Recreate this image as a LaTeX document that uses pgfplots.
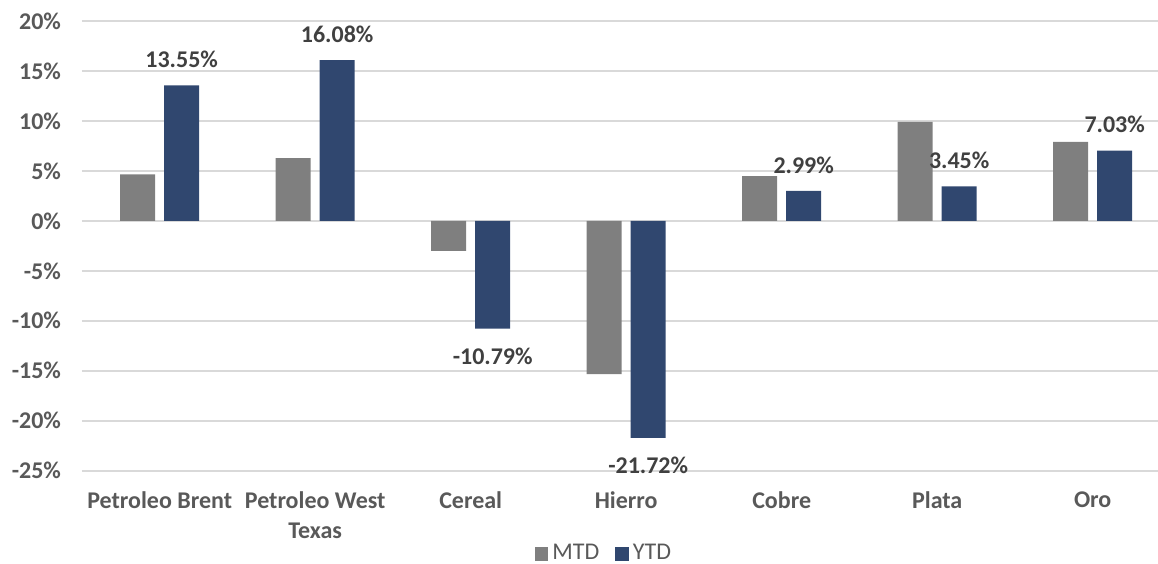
\documentclass[border=0pt]{standalone}
\usepackage{fontspec}
\setmainfont{Carlito}
\usepackage{pgfplots}
\pgfplotsset{compat=1.18}
\usetikzlibrary{calc}

\definecolor{mtdgray}{HTML}{7F7F7F}
\definecolor{ytdblue}{HTML}{30476F}
\definecolor{gridgray}{HTML}{D9D9D9}
\definecolor{labelgray}{HTML}{595959}
\definecolor{valuegray}{HTML}{404040}

\begin{document}
\begin{tikzpicture}
\begin{axis}[
  name=ax,
  x=77.8pt, y=5pt,
  xmin=-0.5, xmax=6.42,
  ymin=-25, ymax=20,
  clip=false,
  axis line style={draw=none},
  tick style={draw=none},
  ymajorgrids,
  grid style={gridgray, line width=1pt},
  ytick={-25,-20,-15,-10,-5,0,5,10,15,20},
  yticklabels={-25\%,-20\%,-15\%,-10\%,-5\%,0\%,5\%,10\%,15\%,20\%},
  xtick={0,1,2,3,4,5,6},
  xticklabels={Petroleo Brent,{Petroleo West\\Texas},Cereal,Hierro,Cobre,Plata,Oro},
  yticklabel style={font=\fontsize{12}{15}\selectfont\bfseries, text=labelgray, xshift=-7pt},
  xticklabel style={font=\fontsize{12}{15}\selectfont\bfseries, text=labelgray, align=center, yshift=-7pt},
  legend style={
    at={(0.486,-0.184)}, anchor=center, draw=none, fill=none,
    font=\fontsize{12}{14}\selectfont, text=labelgray,
    legend columns=2,
    /tikz/every even column/.append style={column sep=6pt},
    legend cell align=left,
  },
  legend image code/.code={\fill[#1] (0pt,-3.7pt) rectangle (6.8pt,3.1pt);},
]
% Month-to-date change
\addplot[ybar, bar width=17.5pt, bar shift=-11pt, fill=mtdgray, draw=none]
  coordinates {(0,4.64) (1,6.27) (2,-3.0) (3,-15.33) (4,4.47) (5,9.9) (6,7.9)};
\addlegendentry{MTD}
% Year-to-date change, labelled with its value above/below each bar
\addplot[ybar, bar width=17.5pt, bar shift=11pt, fill=ytdblue, draw=none,
  visualization depends on={y \as \rawy},
  nodes near coords={\pgfmathprintnumber[fixed,fixed zerofill,precision=2,assume math mode=true]{\pgfplotspointmeta}\%},
  nodes near coords align={vertical},
  every node near coord/.append style={
    font=\fontsize{12}{14}\selectfont\bfseries, text=valuegray,
    inner ysep=0pt, text depth=0pt, text height=7.5pt,
    xshift=11pt,
    yshift={ifthenelse(\rawy>0,8.75,-10.25)}}]
  coordinates {(0,13.55) (1,16.08) (2,-10.79) (3,-21.72) (4,2.99) (5,3.45) (6,7.03)};
\addlegendentry{YTD}
\end{axis}
\pgfresetboundingbox
\path (ax.south west) ++(-41pt,-46.5pt) rectangle ($(ax.north east)+(0pt,10.5pt)$);
\end{tikzpicture}
\end{document}
